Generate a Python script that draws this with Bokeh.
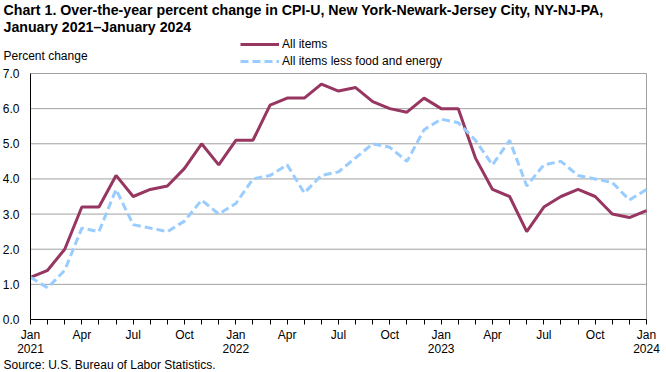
from bokeh.plotting import figure
from bokeh.models import (Range1d, FixedTicker, Label, Legend, LegendItem, ColumnDataSource,
                          LinearAxis)
from bokeh.embed import file_html
from bokeh.resources import INLINE

# ---- data ----
months = list(range(37))  # Jan 2021 .. Jan 2024
month_names = ["Jan", "Feb", "Mar", "Apr", "May", "Jun", "Jul", "Aug", "Sep", "Oct", "Nov", "Dec"]
years = [2021, 2022, 2023, 2024]
all_items = [1.2, 1.4, 2.0, 3.2, 3.2, 4.1, 3.5, 3.7, 3.8, 4.3, 5.0, 4.4,
             5.1, 5.1, 6.1, 6.3, 6.3, 6.7, 6.5, 6.6, 6.2, 6.0, 5.9, 6.3,
             6.0, 6.0, 4.6, 3.7, 3.5, 2.5, 3.2, 3.5, 3.7, 3.5, 3.0, 2.9,
             3.1]
core = [1.2, 0.9, 1.4, 2.6, 2.5, 3.7, 2.7, 2.6, 2.5, 2.8, 3.4, 3.0,
        3.3, 4.0, 4.1, 4.4, 3.6, 4.1, 4.2, 4.6, 5.0, 4.9, 4.5, 5.4,
        5.7, 5.6, 5.1, 4.4, 5.1, 3.8, 4.4, 4.5, 4.1, 4.0, 3.9, 3.4,
        3.7]
y_ticks = [0, 1, 2, 3, 4, 5, 6, 7]
series_names = ["All items", "All items less food and energy"]
title_lines = ["Chart 1. Over-the-year percent change in CPI-U, New York-Newark-Jersey City, NY-NJ-PA,",
               "January 2021\u2013January 2024"]
y_title = "Percent change"
source_note = "Source: U.S. Bureau of Labor Statistics."

FONT = "Liberation Sans"
C_ALL = "#963661"
C_CORE = "#99CCFF"
GRID = "#A0A0A0"
W, H = 666, 372
# plot-area box on the page (pixels)
PX0, PX1, PY_TOP, PY_BOT = 30, 646, 73, 319
X_MIN, X_MAX = months[0], months[-1]
Y_MIN, Y_MAX = y_ticks[0], y_ticks[-1]
kx = (PX1 - PX0) / (X_MAX - X_MIN)
ky = (PY_BOT - PY_TOP) / (Y_MAX - Y_MIN)

# the frame covers the whole canvas; ranges extended so the data box sits at the plot-area box
x_range = Range1d(X_MIN - PX0 / kx, X_MAX + (W - PX1) / kx)
y_range = Range1d(Y_MIN - (H - PY_BOT) / ky, Y_MAX + PY_TOP / ky)

p = figure(width=W, height=H, output_backend="svg", toolbar_location=None,
           x_range=x_range, y_range=y_range,
           x_axis_location=None, y_axis_location=None,
           min_border=0, min_border_left=0, min_border_right=0,
           min_border_top=0, min_border_bottom=0)
p.background_fill_color = "white"
p.border_fill_color = "white"
p.outline_line_color = None
p.grid.visible = False

# horizontal grid lines at the y ticks across the plot box (7.0 line is the top border)
grid_src = ColumnDataSource(dict(y=y_ticks[1:], x0=[X_MIN] * (len(y_ticks) - 1),
                                 x1=[X_MAX] * (len(y_ticks) - 1)))
p.segment(x0="x0", y0="y", x1="x1", y1="y", source=grid_src, line_color=GRID, line_width=1)
# right border of the plot box
border_src = ColumnDataSource(dict(x=[X_MAX], y0=[Y_MIN], y1=[Y_MAX]))
p.segment(x0="x", y0="y0", x1="x", y1="y1", source=border_src, line_color=GRID, line_width=1)

src = ColumnDataSource(dict(x=months, all=all_items, core=core))
r_all = p.line("x", "all", source=src, line_color=C_ALL, line_width=3)
r_core = p.line("x", "core", source=src, line_color=C_CORE, line_width=3, line_dash="8 4")

# x axis
overrides = {}
for m in months:
    name = month_names[m % 12]
    if m % 12 == 0:
        overrides[m] = f"{name}\n{years[m // 12]}"
    elif m % 3 == 0:
        overrides[m] = name
    else:
        overrides[m] = ""
xaxis = LinearAxis(fixed_location=Y_MIN, bounds=(X_MIN, X_MAX), ticker=FixedTicker(ticks=months),
                   major_label_overrides=overrides,
                   major_tick_out=5, major_tick_in=0, minor_tick_line_color=None,
                   axis_line_color="black", major_tick_line_color="black",
                   major_label_text_font=FONT, major_label_text_font_size="12px",
                   major_label_text_line_height=1.05,
                   major_label_text_color="black", major_label_standoff=3)
p.add_layout(xaxis, "below")

# y axis
yaxis = LinearAxis(fixed_location=X_MIN, bounds=(Y_MIN, Y_MAX), ticker=FixedTicker(ticks=y_ticks),
                   major_label_overrides={t: f"{t:.1f}" for t in y_ticks},
                   major_tick_out=0, major_tick_in=0, minor_tick_line_color=None,
                   axis_line_color="black",
                   major_label_text_font=FONT, major_label_text_font_size="12px",
                   major_label_text_color="black", major_label_standoff=11)
p.add_layout(yaxis, "left")


def add_text(txt, x, y, size="12px", style="normal"):
    # x, y are page pixels from the top-left corner
    p.add_layout(Label(x=x, y=H - y, x_units="screen", y_units="screen", text=txt,
                       text_font=FONT, text_font_size=size, text_font_style=style,
                       text_baseline="middle", text_align="left", text_color="black"))


add_text(title_lines[0], 3, 9, size="14.2px", style="bold")
add_text(title_lines[1], 3, 26, size="14.2px", style="bold")
add_text(y_title, 3, 55)
add_text(source_note, 3, 364.5)

legend = Legend(items=[LegendItem(label=series_names[0], renderers=[r_all]),
                       LegendItem(label=series_names[1], renderers=[r_core])],
                location=(240, H - 69), orientation="vertical",
                glyph_width=39, glyph_height=16, label_height=16, label_standoff=3,
                spacing=1, padding=0, margin=0,
                border_line_color=None, background_fill_alpha=0,
                label_text_font=FONT, label_text_font_size="12px", label_text_color="black")
p.add_layout(legend, "center")

open("out.html", "w").write(file_html(p, INLINE))
